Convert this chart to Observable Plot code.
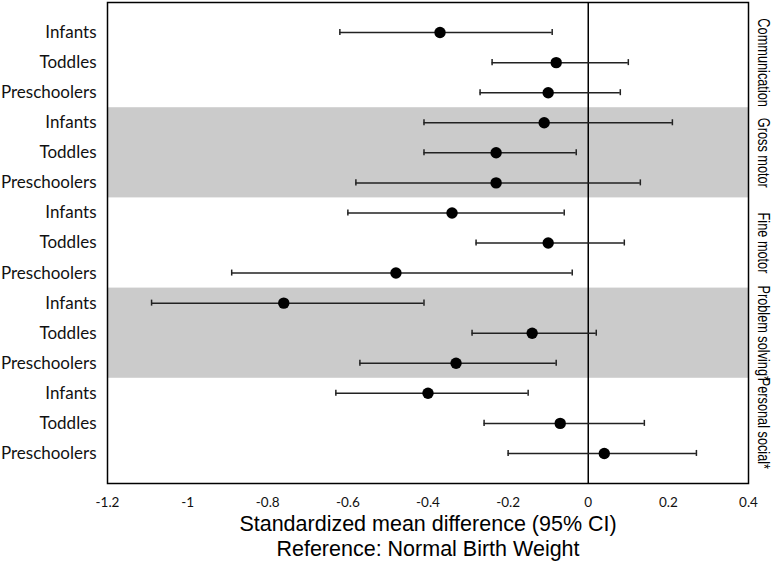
<!DOCTYPE html>
<html>
<head>
<meta charset="utf-8">
<script src="https://cdn.jsdelivr.net/npm/d3@7"></script>
<script src="https://cdn.jsdelivr.net/npm/@observablehq/plot@0.6"></script>
<style>
  html, body { margin: 0; padding: 0; background: #fff; }
</style>
</head>
<body>
<div id="chart"></div>
<script>
// ---- data ----
const domains = ["Communication", "Gross motor", "Fine motor", "Problem solving*", "Personal social*"];
const ageGroups = ["Infants", "Toddles", "Preschoolers"];
const estimates = [-0.37, -0.08, -0.10, -0.11, -0.23, -0.23, -0.34, -0.10, -0.48, -0.76, -0.14, -0.33, -0.40, -0.07, 0.04];
const lower     = [-0.62, -0.24, -0.27, -0.41, -0.41, -0.58, -0.60, -0.28, -0.89, -1.09, -0.29, -0.57, -0.63, -0.26, -0.20];
const upper     = [-0.09,  0.10,  0.08,  0.21, -0.03,  0.13, -0.06,  0.09, -0.04, -0.41,  0.02, -0.08, -0.15,  0.14,  0.27];
const xTicks = [-1.2, -1, -0.8, -0.6, -0.4, -0.2, 0, 0.2, 0.4];
const xTickLabels = ["-1.2", "-1", "-0.8", "-0.6", "-0.4", "-0.2", "0", "0.2", "0.4"];
const xTitle = ["Standardized mean difference (95% CI)", "Reference: Normal Birth Weight"];

// ---- table ----
const rows = [];
domains.forEach((dom, di) => {
  ageGroups.forEach((age, ai) => {
    const i = di * ageGroups.length + ai;
    rows.push({row: i + 1, domain: dom, di, age, est: estimates[i], lo: lower[i], hi: upper[i]});
  });
});
const groups = domains.map((dom, di) => {
  const r = rows.filter(d => d.domain === dom);
  return {domain: dom, di, start: r[0].row - 0.5, end: r[r.length - 1].row + 0.5, mid: (r[0].row + r[r.length - 1].row) / 2};
});
const nRows = rows.length;
const capHalf = 0.1;

const chart = Plot.plot({
  width: 778,
  height: 561,
  marginLeft: 107,
  marginRight: 30,
  marginTop: 2,
  marginBottom: 78,
  style: {fontFamily: "Lato, 'Open Sans', sans-serif", background: "#fff", overflow: "visible"},
  x: {domain: [xTicks[0], xTicks[xTicks.length - 1]]},
  y: {domain: [0, nRows + 1], reverse: true},
  marks: [
    // alternating gray bands
    Plot.rect(groups.filter(g => g.di % 2 === 1), {y1: "start", y2: "end", fill: "#cbcbcb"}),
    // zero reference line
    Plot.ruleX([0], {stroke: "#000", strokeWidth: 1.5}),
    // CI lines
    Plot.ruleY(rows, {y: "row", x1: "lo", x2: "hi", stroke: "#222", strokeWidth: 1.5}),
    // caps
    Plot.ruleX(rows, {x: "lo", y1: d => d.row - capHalf, y2: d => d.row + capHalf, stroke: "#222", strokeWidth: 1.5}),
    Plot.ruleX(rows, {x: "hi", y1: d => d.row - capHalf, y2: d => d.row + capHalf, stroke: "#222", strokeWidth: 1.5}),
    // point estimates
    Plot.dot(rows, {x: "est", y: "row", r: 5.7, fill: "#000", stroke: "none"}),
    // frame
    Plot.frame({stroke: "#000", strokeWidth: 1.5}),
    // y axis labels
    Plot.axisY({
      ticks: rows.map(d => d.row),
      tickFormat: v => rows[v - 1].age,
      tickSize: 0,
      tickPadding: 11,
      fontSize: 17,
      fill: "#111",
      label: null
    }),
    // x axis
    Plot.axisX({
      ticks: xTicks,
      tickFormat: (v, i) => xTickLabels[i],
      tickSize: 0,
      tickPadding: 14,
      fontSize: 13.5,
      fill: "#111",
      label: null
    }),
    // x axis title (two lines)
    Plot.text([xTitle[0]], {frameAnchor: "bottom", lineAnchor: "middle", dy: 41, text: d => d, fontSize: 21.5, fontFamily: "'Liberation Sans', Arial, sans-serif", fill: "#000"}),
    Plot.text([xTitle[1]], {frameAnchor: "bottom", lineAnchor: "middle", dy: 66, text: d => d, fontSize: 21.5, fontFamily: "'Liberation Sans', Arial, sans-serif", fill: "#000"}),
    // facet labels on right
    Plot.text(groups, {y: "mid", frameAnchor: "right", textAnchor: "middle", lineAnchor: "middle", dx: 15, text: "domain", rotate: 90, fontSize: 17,
      fontFamily: "'Liberation Sans', Arial, sans-serif", fill: "#000"})
  ]
});
// condense the strip labels (narrow face like the original)
const domainSet = new Set(domains);
d3.select(chart).selectAll("text").each(function () {
  if (domainSet.has(this.textContent)) {
    const t = this.getAttribute("transform") || "";
    this.setAttribute("transform", t + " scale(0.75,1)");
  }
});
document.getElementById("chart").appendChild(chart);
</script>
</body>
</html>
